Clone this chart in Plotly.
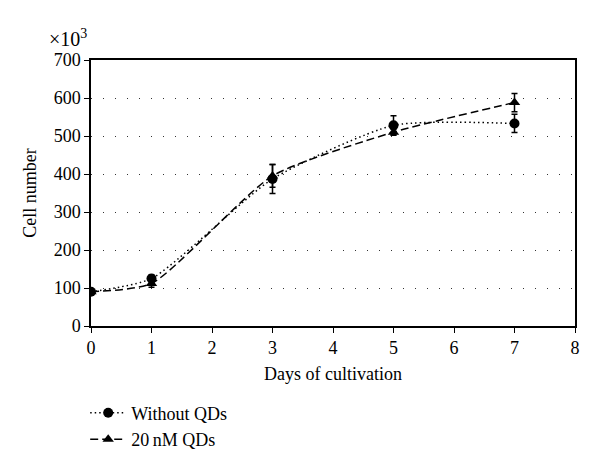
import plotly.graph_objects as go

days = [0, 1, 3, 5, 7]
without_qds = [90, 125, 387, 528, 533]
without_err = [8, 9, 38, 25, 24]
qds_20nm = [90, 112, 395, 510, 588]
qds_err = [6, 10, 30, 8, 24]

x_ticks = [0, 1, 2, 3, 4, 5, 6, 7, 8]
y_ticks = [0, 100, 200, 300, 400, 500, 600, 700]

FONT = "Liberation Serif"
FS = 18

fig = go.Figure()
fig.add_trace(go.Scatter(
    x=days, y=without_qds, name="Without QDs", mode="lines+markers",
    line=dict(color="black", width=1.5, dash="1.5px,3px", shape="spline", smoothing=0.6),
    marker=dict(symbol="circle", size=10, color="black"),
    error_y=dict(type="data", array=without_err, color="black", thickness=1.5, width=3),
))
fig.add_trace(go.Scatter(
    x=days, y=qds_20nm, name="20\u2009nM QDs", mode="lines+markers",
    line=dict(color="black", width=1.5, dash="8px,4px", shape="spline", smoothing=0.6),
    marker=dict(symbol="triangle-up", size=10, color="black"),
    error_y=dict(type="data", array=qds_err, color="black", thickness=1.5, width=3),
))

fig.update_layout(
    width=592, height=463,
    margin=dict(l=83, r=25, t=52, b=145),
    plot_bgcolor="white", paper_bgcolor="white",
    font=dict(family=FONT, size=FS, color="black"),
    showlegend=True,
    legend=dict(x=-0.012, y=-0.258, xanchor="left", yanchor="top",
                font=dict(family=FONT, size=FS), tracegroupgap=0,
                itemwidth=36, bgcolor="rgba(0,0,0,0)"),
    xaxis=dict(range=[0, 8], tickvals=x_ticks, showline=True, linecolor="black",
               linewidth=1.5, mirror=True, ticks="outside", ticklen=5,
               tickcolor="black", showgrid=False, zeroline=False, automargin=False,
               tickfont=dict(size=FS),
               title=dict(text="Days of cultivation", font=dict(size=FS), standoff=10)),
    yaxis=dict(range=[0, 700], tickvals=y_ticks, showline=True, linecolor="black",
               linewidth=1.5, mirror=True, ticks="outside", ticklen=5,
               tickcolor="black", showgrid=True, gridcolor="#333", gridwidth=1,
               griddash="1px,11px", zeroline=False, automargin=False,
               tickfont=dict(size=FS),
               title=dict(text="Cell number", font=dict(size=FS), standoff=12)),
    annotations=[dict(text="\u00d710<sup>3</sup>", x=0, y=1.0, xref="paper", yref="paper",
                      xanchor="right", yanchor="bottom", xshift=-2, yshift=8,
                      showarrow=False, font=dict(family=FONT, size=20))],
)

fig.write_html("out.html")
